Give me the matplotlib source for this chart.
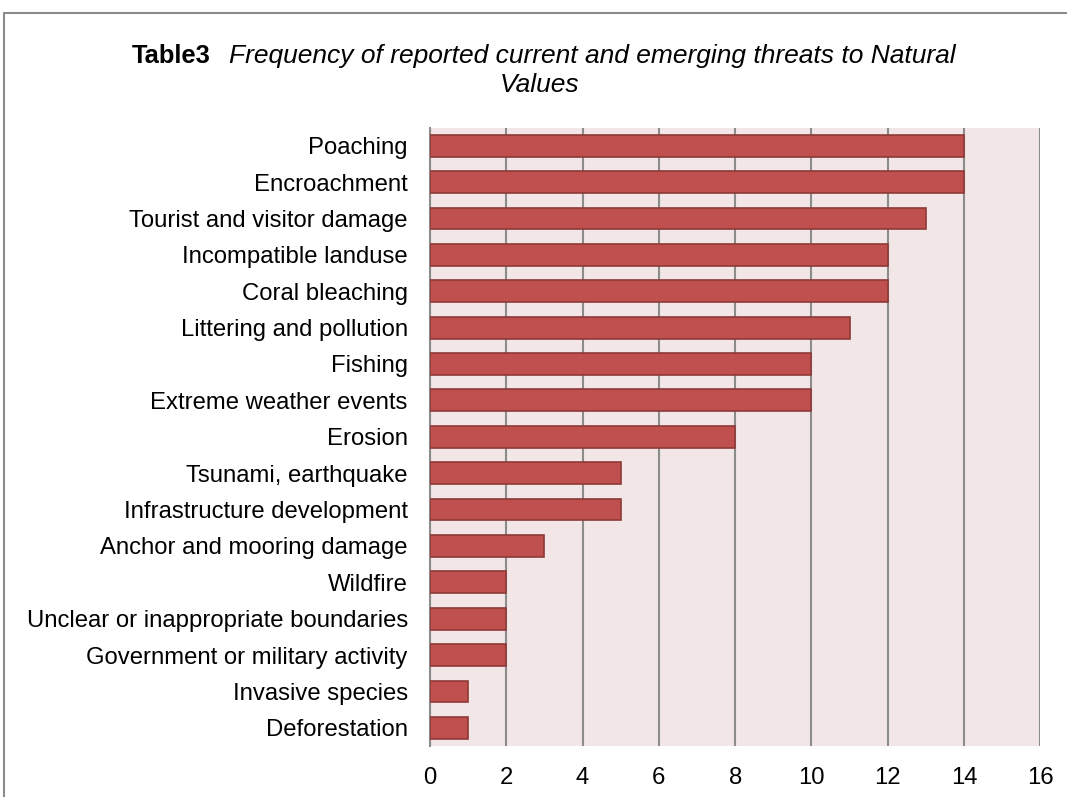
import matplotlib.pyplot as plt
from matplotlib.patches import Rectangle

plt.rcParams['font.family'] = ['Liberation Sans', 'DejaVu Sans']

# Threat categories and number of sites reporting each one
threats = ['Poaching', 'Encroachment', 'Tourist and visitor damage', 'Incompatible landuse',
           'Coral bleaching', 'Littering and pollution', 'Fishing', 'Extreme weather events',
           'Erosion', 'Tsunami, earthquake', 'Infrastructure development',
           'Anchor and mooring damage', 'Wildfire', 'Unclear or inappropriate boundaries',
           'Government or military activity', 'Invasive species', 'Deforestation']
counts = [14, 14, 13, 12, 12, 11, 10, 10, 8, 5, 5, 3, 2, 2, 2, 1, 1]
x_ticks = [0, 2, 4, 6, 8, 10, 12, 14, 16]

fig = plt.figure(figsize=(10.67, 7.97), dpi=100)
ax = fig.add_axes([0.403, 0.064, 0.572, 0.776])

# Outer frame around the whole chart
fig.patches.append(Rectangle((0.004, -0.01), 1.2, 0.994, transform=fig.transFigure,
                             fill=False, edgecolor='#8c8c8c', linewidth=1.5))

ax.set_facecolor('#f2e6e6')
ypos = list(range(len(threats)))
ax.barh(ypos, counts, height=0.6, color='#c0504d', edgecolor='#8e3a38', linewidth=1.2, zorder=3)
ax.set_ylim(len(threats) - 0.5, -0.5)
ax.set_yticks(ypos)
ax.set_yticklabels(threats, fontsize=17.2)
ax.set_xlim(0, 16)
ax.set_xticks(x_ticks)
ax.set_xticklabels([str(t) for t in x_ticks], fontsize=17.2)
ax.tick_params(axis='y', length=0, pad=16)
ax.tick_params(axis='x', length=0, pad=15)
ax.grid(axis='x', color='#8c8c8c', linewidth=1.5, zorder=1)
for s in ['top', 'right', 'bottom']:
    ax.spines[s].set_visible(False)
ax.spines['left'].set_color('#8c8c8c')
ax.spines['left'].set_linewidth(1.5)

# Title: bold table number followed by italic caption
t1 = fig.text(132 / 1067, 1 - 56 / 797, 'Table3', fontsize=18.4, fontweight='bold', va='center', ha='left')
fig.canvas.draw()
bb = t1.get_window_extent()
fig.text((bb.x1 + 18) / 1067, 1 - 56 / 797,
         'Frequency of reported current and emerging threats to Natural',
         fontsize=19, fontstyle='italic', va='center', ha='left')
fig.text(540 / 1067, 1 - 85 / 797, 'Values', fontsize=19, fontstyle='italic', va='center', ha='center')

fig.savefig('out.png', dpi=100)
